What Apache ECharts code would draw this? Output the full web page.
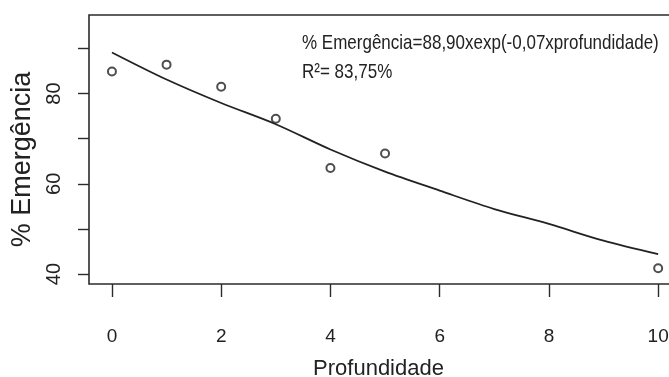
<!DOCTYPE html>
<html>
<head>
<meta charset="utf-8">
<script src="https://cdn.jsdelivr.net/npm/echarts@6/dist/echarts.min.js"></script>
<style>
html,body{margin:0;padding:0;background:#fff;}
#chart{width:669px;height:377px;}
</style>
</head>
<body>
<div id="chart"></div>
<script>
var depthObs = [0, 1, 2, 3, 4, 5, 10];
var emergenceObs = [84.9, 86.4, 81.5, 74.4, 63.5, 66.7, 41.3];
// Fitted curve as drawn (at each depth)
var depthFit = [0, 1, 2, 3, 4, 5, 6, 7, 8, 9, 10];
var emergenceFit = [89.1, 83.1, 77.9, 73.2, 67.6, 62.7, 58.5, 54.4, 51.1, 47.4, 44.4];
// Ticks and labels
var xTicks = [0, 2, 4, 6, 8, 10];
var yTicks = [40, 50, 60, 70, 80, 90];
var yLabels = [40, 60, 80];
var equationText = '% Emergência=88,90xexp(-0,07xprofundidade)';
var r2Text = 'R²= 83,75%';

var FONT = 'Liberation Sans, Arial, sans-serif';
var chart = echarts.init(document.getElementById('chart'), null, {renderer: 'canvas'});

function pairs(xs, ys) { return xs.map(function (x, i) { return [x, ys[i]]; }); }

chart.setOption({
  animation: false,
  backgroundColor: '#fff',
  grid: {
    left: 89, top: 15, right: -11, bottom: 93,
    containLabel: false, outerBoundsMode: 'none',
    show: true, borderColor: '#2b2b2b', borderWidth: 1.6, backgroundColor: 'transparent'
  },
  xAxis: {
    type: 'value', min: -0.42, max: 10.4,
    name: 'Profundidade', nameLocation: 'middle', nameGap: 74,
    nameTextStyle: {fontFamily: FONT, fontSize: 22, color: '#222', padding: [0, 12, 0, 0]},
    axisLine: {show: false, onZero: false},
    splitLine: {show: false},
    axisTick: {show: true, customValues: xTicks, length: 13, lineStyle: {color: '#2b2b2b', width: 1.4}},
    axisLabel: {customValues: xTicks, margin: 43, fontFamily: FONT, fontSize: 19, color: '#222'}
  },
  yAxis: {
    type: 'value', min: 37.8, max: 97.4,
    name: '% Emergência', nameLocation: 'middle', nameGap: 52, nameRotate: 90,
    nameTextStyle: {fontFamily: FONT, fontSize: 27, color: '#222', padding: [0, 20, 0, 0]},
    axisLine: {show: false, onZero: false},
    splitLine: {show: false},
    axisTick: {show: true, customValues: yTicks, length: 11, lineStyle: {color: '#2b2b2b', width: 1.4}},
    axisLabel: {customValues: yLabels, rotate: 90, margin: 25, fontFamily: FONT, fontSize: 20, color: '#222'}
  },
  graphic: [
    {type: 'text', x: 302, y: 43, scaleY: 1.2,
     style: {text: equationText, font: '17px ' + FONT, fill: '#222', verticalAlign: 'middle', align: 'left'}},
    {type: 'text', x: 302, y: 72, scaleY: 1.2,
     style: {text: r2Text, font: '17px ' + FONT, fill: '#222', verticalAlign: 'middle', align: 'left'}}
  ],
  series: [
    {
      type: 'line', data: pairs(depthFit, emergenceFit), showSymbol: false, smooth: 0.3,
      lineStyle: {color: '#222', width: 1.8}, z: 2
    },
    {
      type: 'scatter', data: pairs(depthObs, emergenceObs), symbol: 'emptyCircle', symbolSize: 8,
      itemStyle: {color: '#222', borderColor: '#222', borderWidth: 1.4}, z: 3
    }
  ]
});
</script>
</body>
</html>
